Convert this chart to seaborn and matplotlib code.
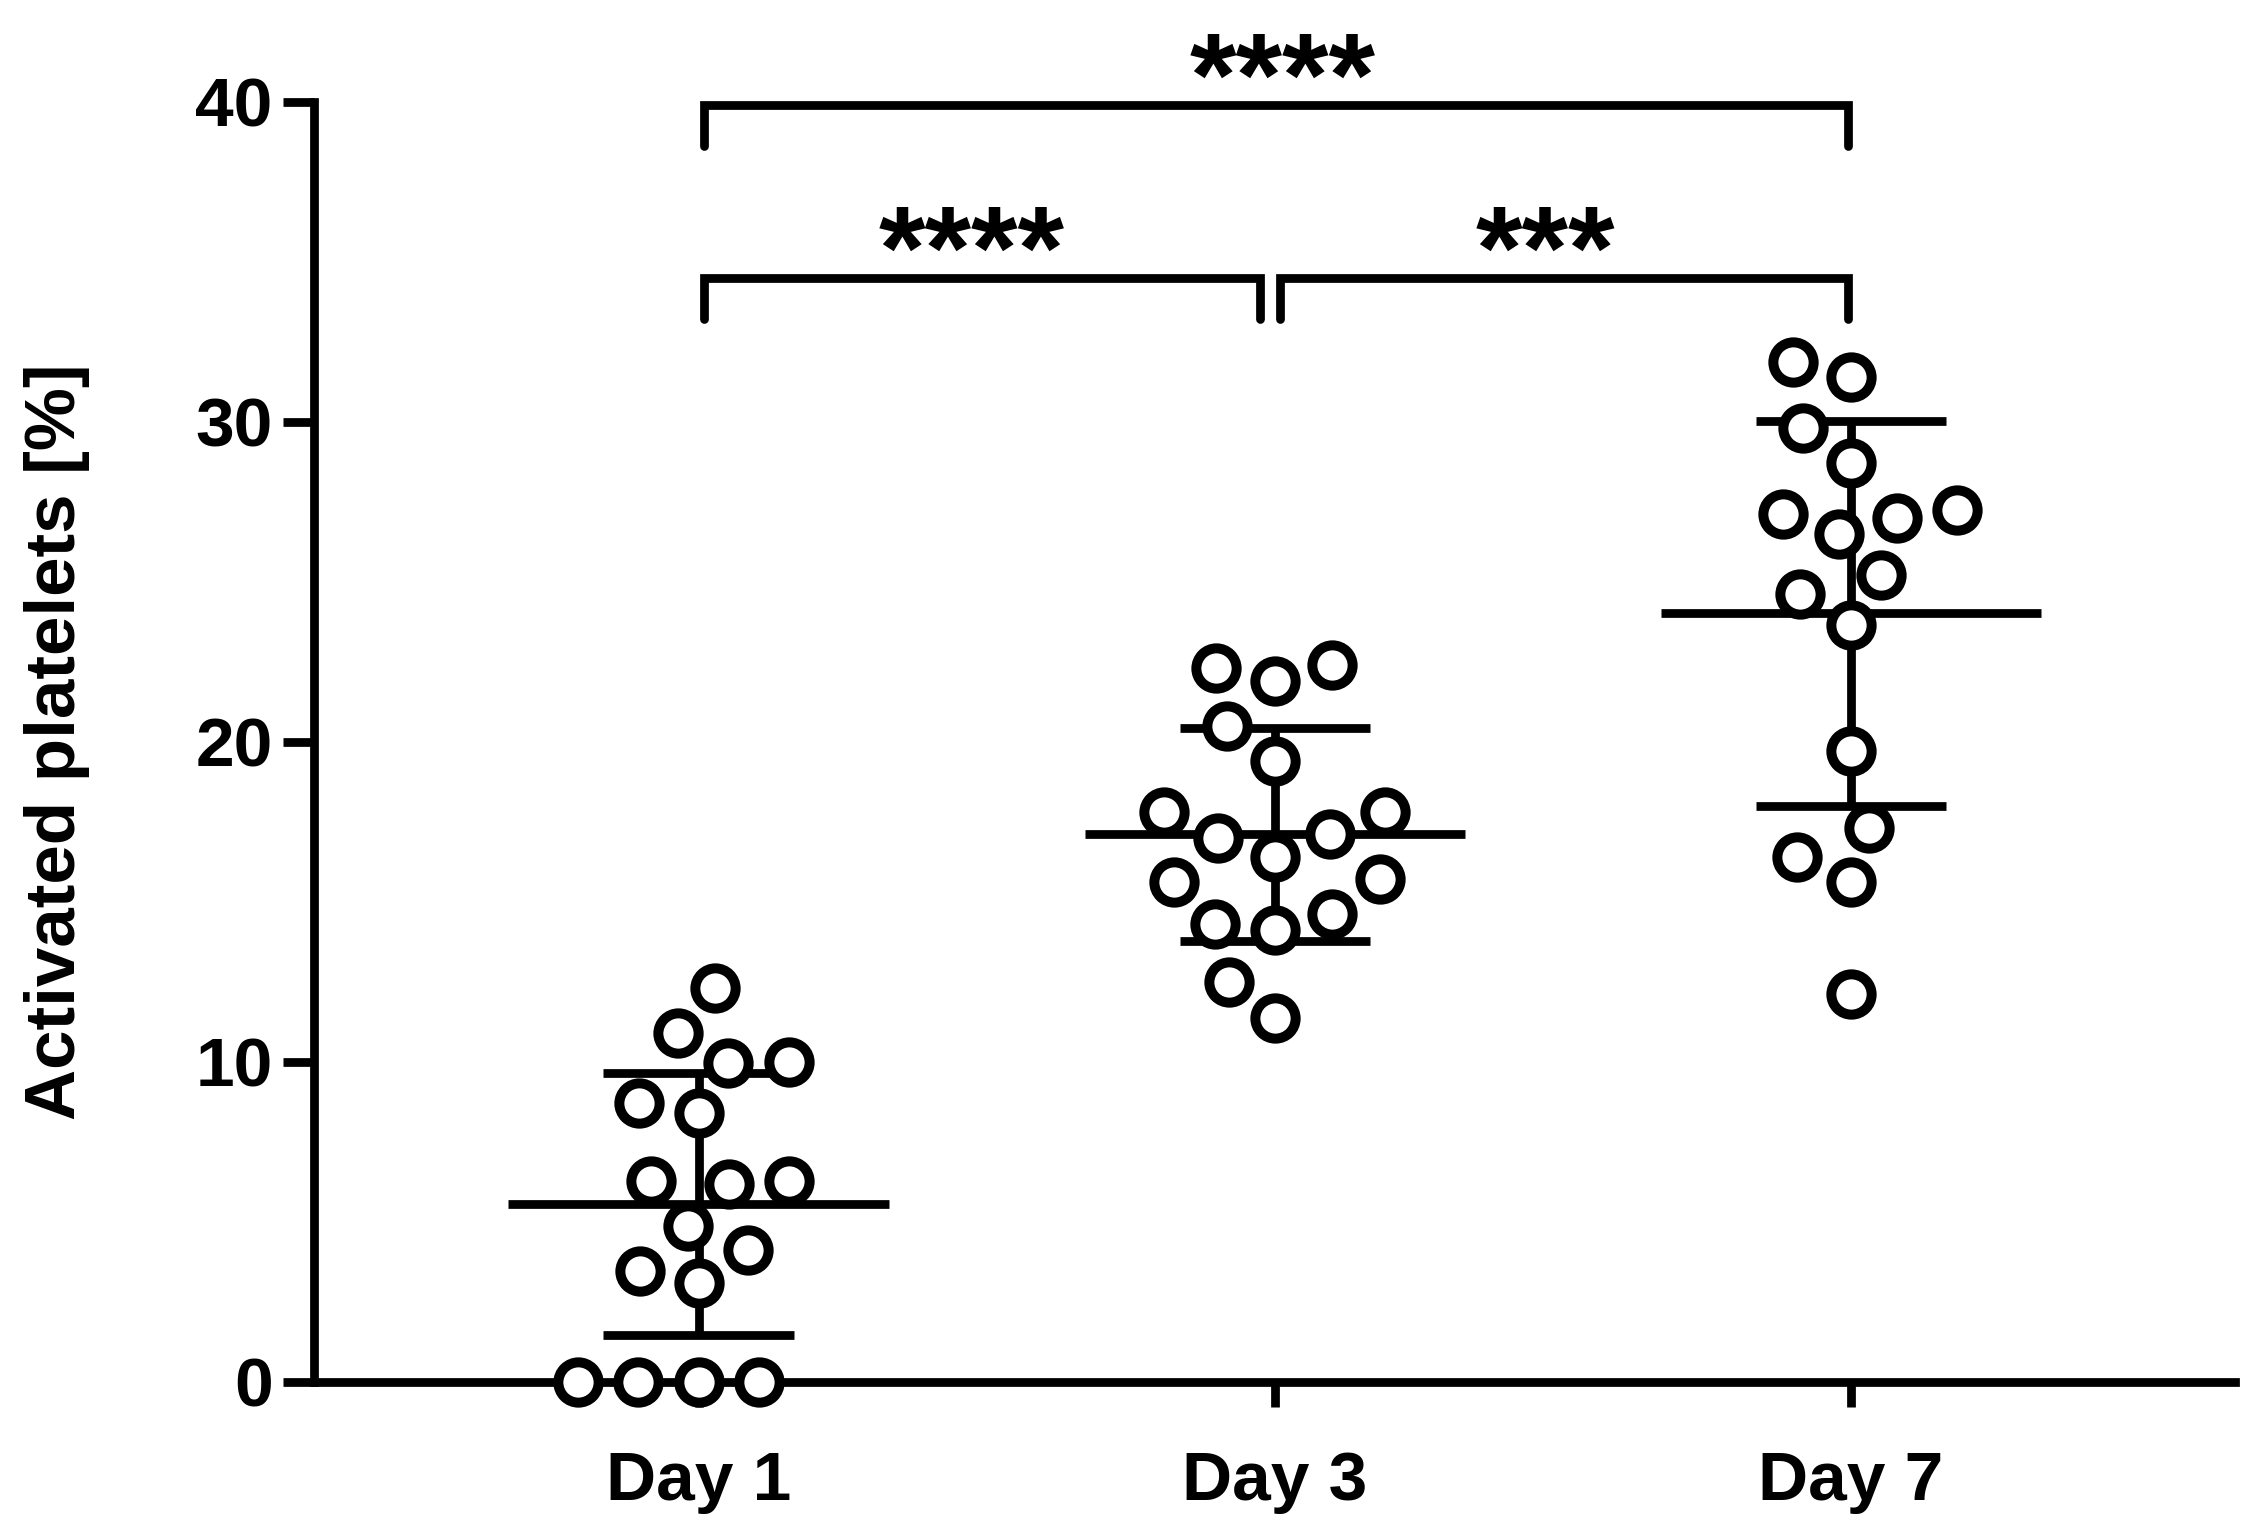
import numpy as np
import pandas as pd
import matplotlib
matplotlib.use("Agg")
import matplotlib.pyplot as plt
import seaborn as sns

# ==========================================
# DATA
# ==========================================

days = ["Day 1", "Day 3", "Day 7"]

day1 = [12.3, 10.9, 10.0, 9.95, 8.7, 8.4, 6.26, 6.17, 6.26, 4.86, 4.1,
        3.47, 3.1, 0.0, 0.0, 0.0, 0.0]
day3 = [22.4, 22.3, 21.9, 20.5, 19.4, 17.8, 17.8, 17.1, 17.0, 16.4, 15.6,
        15.7, 14.3, 14.6, 14.1, 12.5, 11.35]
day7 = [31.85, 31.4, 29.8, 28.7, 27.1, 27.25, 26.5, 27.0, 25.2, 24.6,
        23.65, 19.7, 17.3, 16.4, 15.6, 12.1]

y_ticks = [0, 10, 20, 30, 40]

# significance brackets: (group a, group b, label)
comparisons = [(0, 2, "****"), (0, 1, "****"), (1, 2, "***")]
bracket_levels = [39.9, 34.5, 34.5]
label_shift = [0.012, -0.018, -0.033]

# ==========================================
# BUILD LONG FORMAT
# ==========================================

df = pd.DataFrame({
    "day": ["Day 1"] * len(day1) + ["Day 3"] * len(day3) + ["Day 7"] * len(day7),
    "value": day1 + day3 + day7,
})

stats = df.groupby("day", sort=False)["value"].agg(["mean", "std"])

# ==========================================
# STYLE
# ==========================================

sns.set_style("ticks")
plt.rcParams["font.family"] = ["Liberation Sans", "DejaVu Sans"]
plt.rcParams["font.weight"] = "bold"
plt.rcParams["text.color"] = "black"
plt.rcParams["axes.labelcolor"] = "black"
plt.rcParams["xtick.color"] = "black"
plt.rcParams["ytick.color"] = "black"

LW = 6.3
MARKER = 29
MARKER_LW = 7.2

fig = plt.figure(figsize=(22.61, 15.39), dpi=100)
ax = fig.add_axes([0.139, 0.1022, 0.8495, 0.8318])

# ==========================================
# POINTS
# ==========================================

# swarm laid out with a wider footprint (prism-style spacing), then shrunk
sns.swarmplot(
    data=df, x="day", y="value", order=days,
    color="white", edgecolor="black", linewidth=MARKER_LW, size=34,
    ax=ax, zorder=5, warn_thresh=1.0,
)
ax.set_xlim(-0.667, 2.667)
ax.set_ylim(0, 40)
fig.canvas.draw()
for coll in ax.collections:
    if "draw" in coll.__dict__:
        del coll.draw
    coll.set_sizes([MARKER ** 2])
    coll.set_clip_on(False)

# mean and SD bars
for i, day in enumerate(days):
    m = stats.loc[day, "mean"]
    s = stats.loc[day, "std"]
    ax.hlines(m, i - 0.33, i + 0.33, color="black", lw=LW, zorder=2)
    ax.hlines([m - s, m + s], i - 0.165, i + 0.165, color="black", lw=LW, zorder=2)
    ax.vlines(i, m - s, m + s, color="black", lw=LW, zorder=2)

# ==========================================
# SIGNIFICANCE BRACKETS
# ==========================================

drop = 1.3
for (a, b, label), level, shift in zip(comparisons, bracket_levels, label_shift):
    xa = a + 0.01
    xb = b - 0.025 if (b == 1) else b - 0.005
    ax.plot([xa, xa, xb, xb], [level - drop, level, level, level - drop],
            color="black", lw=LW, clip_on=False, solid_joinstyle="miter")
    ax.text((xa + xb) / 2 + shift, level - 0.35, label, ha="center", va="baseline",
            fontsize=86, fontweight="bold", clip_on=False)

# ==========================================
# AXES
# ==========================================

ax.set_yticks(y_ticks)
ax.set_xlabel("")
ax.set_ylabel("Activated platelets [%]", fontsize=51, fontweight="bold")
ax.yaxis.set_label_coords(-0.117, 0.5)

sns.despine(ax=ax)
for side in ["left", "bottom"]:
    ax.spines[side].set_linewidth(LW)
    ax.spines[side].set_color("black")
    ax.spines[side].set_zorder(2)

ax.tick_params(axis="both", direction="out", width=LW, color="black",
               labelsize=50, pad=8)
ax.tick_params(axis="y", length=22)
ax.tick_params(axis="x", length=18, pad=31)
for lab in ax.get_xticklabels() + ax.get_yticklabels():
    lab.set_fontweight("bold")

fig.savefig("out.png", dpi=100)
